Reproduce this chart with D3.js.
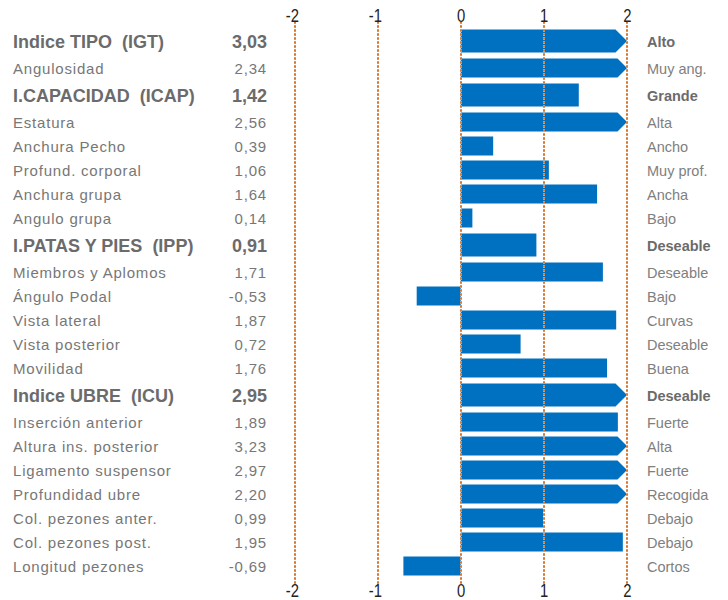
<!DOCTYPE html>
<html lang="es">
<head>
  <meta charset="UTF-8">
  <title>Perfil morfológico</title>
  <script src="https://d3js.org/d3.v7.min.js"></script>
  <style>
    body {
      margin: 0;
      padding: 0;
      background: white;
    }

    svg {
      font-family: "Liberation Sans", Arial, sans-serif;
    }

    text { white-space: pre; }
    .name { font-size: 15px; fill: #777; letter-spacing: 0.8px; }
    .name.group { font-size: 18px; font-weight: bold; fill: #6b6b6b; letter-spacing: 0; }
    .val { font-size: 15px; fill: #777; letter-spacing: 0.8px; }
    .val.group { font-size: 18px; font-weight: bold; fill: #6b6b6b; letter-spacing: 0; }
    .cat { font-size: 14.5px; fill: #808080; }
    .cat.group { font-weight: bold; fill: #6b6b6b; }
    .bar { fill: #0070c0; }
    .axis text { font-family: "Liberation Sans", Arial, sans-serif; font-size: 19px; fill: #222; }
  </style>
</head>
<body>
  <script>
    // rows, top to bottom
    const labels = [
      "Indice TIPO  (IGT)", "Angulosidad",
      "I.CAPACIDAD  (ICAP)", "Estatura", "Anchura Pecho", "Profund. corporal", "Anchura grupa", "Angulo grupa",
      "I.PATAS Y PIES  (IPP)", "Miembros y Aplomos", "Ángulo Podal", "Vista lateral", "Vista posterior", "Movilidad",
      "Indice UBRE  (ICU)", "Inserción anterior", "Altura ins. posterior", "Ligamento suspensor", "Profundidad ubre",
      "Col. pezones anter.", "Col. pezones post.", "Longitud pezones"
    ];
    const values = [
      3.03, 2.34,
      1.42, 2.56, 0.39, 1.06, 1.64, 0.14,
      0.91, 1.71, -0.53, 1.87, 0.72, 1.76,
      2.95, 1.89, 3.23, 2.97, 2.20,
      0.99, 1.95, -0.69
    ];
    const categories = [
      "Alto", "Muy ang.",
      "Grande", "Alta", "Ancho", "Muy prof.", "Ancha", "Bajo",
      "Deseable", "Deseable", "Bajo", "Curvas", "Deseable", "Buena",
      "Deseable", "Fuerte", "Alta", "Fuerte", "Recogida",
      "Debajo", "Debajo", "Cortos"
    ];
    const groupRows = [0, 2, 8, 14];
    const tickValues = [-2, -1, 0, 1, 2];

    const width = 728;
    const height = 600;

    const rows = labels.map((name, i) => ({
      name,
      value: values[i],
      cat: categories[i],
      group: groupRows.includes(i)
    }));

    // group rows take a bit more room than the others
    let acc = 0;
    rows.forEach(r => {
      r.units = r.group ? 1.25 : 1;
      r.mid = acc + r.units / 2;
      acc += r.units;
    });

    const x = d3.scaleLinear().domain([-2, 2]).range([294.5, 627]);
    const y = d3.scaleLinear().domain([0, acc]).range([27, 579]);

    const locale = d3.formatLocale({ decimal: ",", thousands: ".", grouping: [3], currency: ["", ""], minus: "-" });
    const fmt = locale.format(".2f");

    const svg = d3.select("body").append("svg")
      .attr("width", width)
      .attr("height", height);

    // bars (values above 2 are cut with an arrow point)
    const xMax = x.domain()[1];
    svg.append("g")
      .selectAll("path")
      .data(rows)
      .join("path")
      .attr("class", "bar")
      .attr("d", d => {
        const h = d.group ? 23 : 19;
        const cy = y(d.mid) - 1;
        const top = cy - h / 2, bot = cy + h / 2;
        const x0 = x(0);
        if (d.value > xMax) {
          const xe = x(xMax);
          return `M${x0},${top}H${xe - h / 2}L${xe},${cy}L${xe - h / 2},${bot}H${x0}Z`;
        }
        const x1 = x(d.value);
        return `M${Math.min(x0, x1)},${top}H${Math.max(x0, x1)}V${bot}H${Math.min(x0, x1)}Z`;
      });

    // dotted grid lines, drawn over the bars
    const gx = d => Math.round(x(d));
    const grid = svg.append("g");
    grid.selectAll(".g1")
      .data(tickValues)
      .join("line")
      .attr("x1", gx).attr("x2", gx)
      .attr("y1", 22).attr("y2", 584)
      .attr("stroke", "#a6a6a6")
      .attr("stroke-width", 2)
      .attr("stroke-dasharray", "1,1")
      .attr("stroke-dashoffset", 1);
    grid.selectAll(".g2")
      .data(tickValues)
      .join("line")
      .attr("x1", gx).attr("x2", gx)
      .attr("y1", 22).attr("y2", 584)
      .attr("stroke", "#d9782d")
      .attr("stroke-width", 2)
      .attr("stroke-dasharray", "1,3");

    // axes top and bottom
    const tickFmt = locale.format("d");
    const topAxis = svg.append("g")
      .attr("class", "axis")
      .attr("transform", "translate(0,22)")
      .call(d3.axisTop(x).tickValues(tickValues).tickSize(0).tickPadding(0).tickFormat(tickFmt));
    const botAxis = svg.append("g")
      .attr("class", "axis")
      .attr("transform", "translate(0,597)")
      .call(d3.axisBottom(x).tickValues(tickValues).tickSize(0).tickPadding(0).tickFormat(tickFmt));
    [topAxis, botAxis].forEach(a => {
      a.select(".domain").remove();
      a.selectAll("text")
        .attr("text-anchor", "end")
        .attr("dy", 0)
        .attr("x", 5)
        .attr("transform", "scale(0.78,1)");
    });

    // left names and values
    svg.append("g")
      .selectAll("text")
      .data(rows)
      .join("text")
      .attr("class", d => d.group ? "name group" : "name")
      .attr("x", 13)
      .attr("y", d => y(d.mid) + (d.group ? 6 : 5))
      .text(d => d.name);

    svg.append("g")
      .selectAll("text")
      .data(rows)
      .join("text")
      .attr("class", d => d.group ? "val group" : "val")
      .attr("x", 267)
      .attr("y", d => y(d.mid) + (d.group ? 6 : 5))
      .attr("text-anchor", "end")
      .text(d => fmt(d.value));

    // right category texts
    svg.append("g")
      .selectAll("text")
      .data(rows)
      .join("text")
      .attr("class", d => d.group ? "cat group" : "cat")
      .attr("x", 647)
      .attr("y", d => y(d.mid) + 5)
      .text(d => d.cat);
  </script>
</body>
</html>
